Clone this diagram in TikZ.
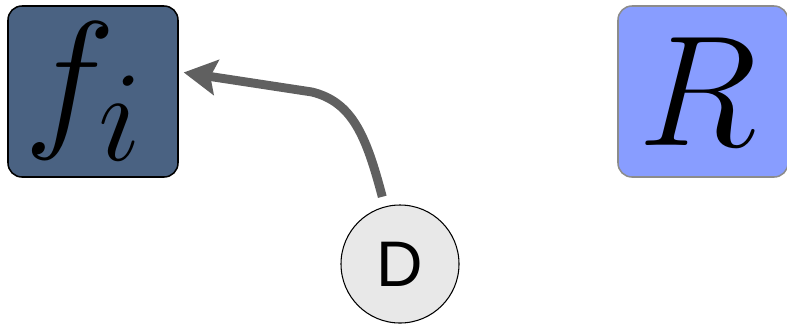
\documentclass[tikz,border=0pt]{standalone}
\usepackage{fontspec}
\usepackage{graphicx}
\newfontfamily\dfont{Liberation Sans}
\usetikzlibrary{arrows.meta}

\definecolor{fiblue}{RGB}{74,98,130}
\definecolor{rblue}{RGB}{136,157,255}
\definecolor{rgray}{RGB}{140,140,140}
\definecolor{dgray}{RGB}{232,232,232}
\definecolor{flowgray}{RGB}{96,96,96}

\begin{document}
\begin{tikzpicture}[
x={(0.03cm, 0cm)}, y={(0cm, -0.03cm)},
% #region Picture settings %
box/.style={rectangle, rounded corners=0.42cm, minimum width=5.1cm, minimum height=5.13cm, inner sep=0pt},
flow/.style={-{Stealth[length=28pt, width=30pt, inset=5pt]}, line width=7.6pt, color=flowgray},
% #endregion Picture settings %
]

\useasboundingbox (0,0) rectangle (787,326);

\node[box, draw=black, line width=1.3pt, fill=fiblue] (fi) at (93,91.5) {\kern-0.5cm\scalebox{5.3}{\Huge $f_i$}};
\node[box, draw=rgray, line width=1.3pt, fill=rblue] (R) at (703,91.5) {\kern-0.3cm\scalebox{5.4}{\Huge $R$}};
\node[circle, draw=black, line width=0.9pt, fill=dgray, minimum size=3.54cm, inner sep=0pt] (D) at (400,264) {\fontsize{55}{57}\selectfont\dfont D};

\draw[flow, shorten <=0.3cm, shorten >=0.15cm] (D) .. controls (366,135) and (352,102) .. (312,92) -- (fi.13);

\end{tikzpicture}
\end{document}
